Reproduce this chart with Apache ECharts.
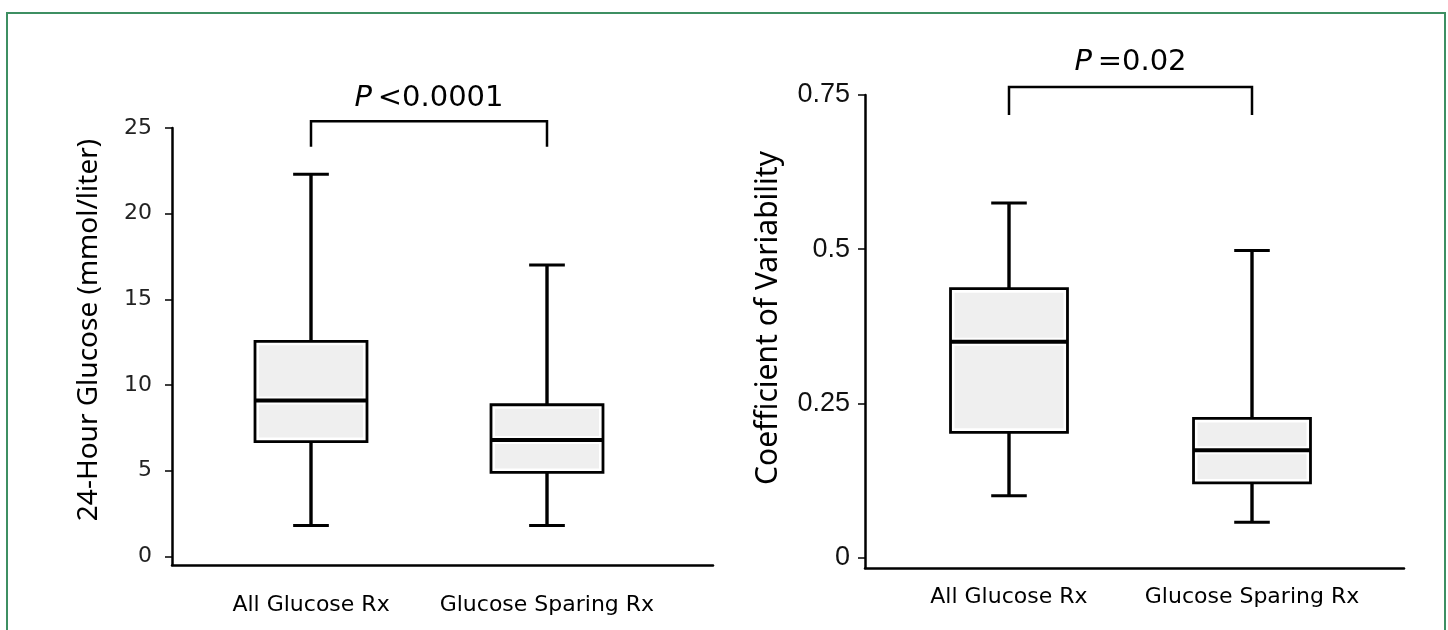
<!DOCTYPE html>
<html>
<head>
<meta charset="utf-8">
<script src="https://cdn.jsdelivr.net/npm/echarts@6/dist/echarts.min.js"></script>
<style>
  html, body { margin: 0; padding: 0; background: #fff; }
  #chart { width: 1448px; height: 630px; }
</style>
</head>
<body>
<div id="chart"></div>
<script>
// ---------- data ----------
const categories = ['All Glucose Rx', 'Glucose Sparing Rx'];

// 24-hour glucose (mmol/liter)
const glucoseMin    = [1.8, 1.8];
const glucoseQ1     = [6.7, 4.9];
const glucoseMedian = [9.1, 6.8];
const glucoseQ3     = [12.55, 8.85];
const glucoseMax    = [22.3, 17.0];
const glucoseTicks  = [0, 5, 10, 15, 20, 25];
const glucoseP      = 'P<0.0001';

// Coefficient of variability
const cvMin    = [0.100, 0.057];
const cvQ1     = [0.203, 0.121];
const cvMedian = [0.350, 0.174];
const cvQ3     = [0.436, 0.2255];
const cvMax    = [0.575, 0.498];
const cvTicks  = [0, 0.25, 0.5, 0.75];
const cvP      = 'P=0.02';

// ---------- layout (positions on a 0..10 horizontal scale) ----------
const glucoseXPos = [2.57, 6.93];
const cvXPos      = [2.67, 7.18];
const glucoseBoxW = 2.07, cvBoxW = 2.17, capW = 0.66;
const glucoseBracket = [25.4, 23.9, 26.75];   // top, arm end, text centre (y units)
const cvBracket      = [0.763, 0.7175, 0.803];

function boxRows(xs, mn, q1, md, q3, mx) {
  return xs.map((x, i) => [x, mn[i], q1[i], md[i], q3[i], mx[i]]);
}

function makeBoxRenderer(boxW) {
  return function (params, api) {
    const x = api.value(0);
    const pMin = api.coord([x, api.value(1)]);
    const pQ1  = api.coord([x, api.value(2)]);
    const pMed = api.coord([x, api.value(3)]);
    const pQ3  = api.coord([x, api.value(4)]);
    const pMax = api.coord([x, api.value(5)]);
    const halfW = api.size([boxW, 0])[0] / 2;
    const capH = api.size([capW, 0])[0] / 2;
    const cx = Math.round(pMin[0]);
    const vert = { stroke: '#000', lineWidth: 3.4 };
    const cap = { stroke: '#000', lineWidth: 3 };
    const ins = 4;
    return {
      type: 'group',
      children: [
        { type: 'line', shape: { x1: cx, y1: pMax[1], x2: cx, y2: pQ3[1] }, style: vert },
        { type: 'line', shape: { x1: cx, y1: pQ1[1], x2: cx, y2: pMin[1] }, style: vert },
        { type: 'line', shape: { x1: cx - capH, y1: pMax[1], x2: cx + capH, y2: pMax[1] }, style: cap },
        { type: 'line', shape: { x1: cx - capH, y1: pMin[1], x2: cx + capH, y2: pMin[1] }, style: cap },
        { type: 'rect', shape: { x: cx - halfW, y: pQ3[1], width: 2 * halfW, height: pQ1[1] - pQ3[1] },
          style: { fill: '#fff', stroke: '#000', lineWidth: 2.8 } },
        { type: 'rect', shape: { x: cx - halfW + ins, y: pQ3[1] + ins, width: 2 * halfW - 2 * ins, height: pMed[1] - pQ3[1] - 2 * ins },
          style: { fill: '#efefef' } },
        { type: 'rect', shape: { x: cx - halfW + ins, y: pMed[1] + ins, width: 2 * halfW - 2 * ins, height: pQ1[1] - pMed[1] - 2 * ins },
          style: { fill: '#efefef' } },
        { type: 'line', shape: { x1: cx - halfW, y1: pMed[1], x2: cx + halfW, y2: pMed[1] }, style: { stroke: '#000', lineWidth: 4 } }
      ]
    };
  };
}

function makeBracketRenderer(xs, br, label) {
  return function (params, api) {
    const a1 = api.coord([xs[0], br[1]]);
    const t1 = api.coord([xs[0], br[0]]);
    const t2 = api.coord([xs[1], br[0]]);
    const a2 = api.coord([xs[1], br[1]]);
    const tc = api.coord([(xs[0] + xs[1]) / 2, br[2]]);
    const rest = label.slice(1);
    return {
      type: 'group',
      children: [
        { type: 'polyline', shape: { points: [[Math.round(a1[0]), a1[1]], [Math.round(t1[0]), t1[1]], [Math.round(t2[0]), t2[1]], [Math.round(a2[0]), a2[1]]] },
          style: { stroke: '#000', lineWidth: 2.5, fill: null } },
        { type: 'text', x: tc[0], y: tc[1],
          style: {
            text: '{i|P}{n|\u2009' + rest + '}',
            align: 'center', verticalAlign: 'middle',
            rich: {
              i: { fontStyle: 'italic', fontSize: 29, fontFamily: 'DejaVu Sans', fill: '#000' },
              n: { fontSize: 29, fontFamily: 'DejaVu Sans', fill: '#000' }
            }
          } }
      ]
    };
  };
}

function nearestLabel(xs) {
  return function (v) {
    let best = 0;
    xs.forEach((x, i) => { if (Math.abs(x - v) < Math.abs(xs[best] - v)) best = i; });
    return categories[best];
  };
}

const axisLineStyle = { color: '#000', width: 2.5 };

const option = {
  animation: false,
  backgroundColor: '#fff',
  grid: [
    { left: 172, top: 128, width: 541, height: 437 },
    { left: 865, top: 95, width: 539, height: 473 }
  ],
  xAxis: [
    { gridIndex: 0, type: 'value', min: 0, max: 10,
      axisLine: { show: true, onZero: false, lineStyle: axisLineStyle },
      axisTick: { show: false }, splitLine: { show: false },
      axisLabel: { customValues: glucoseXPos, formatter: nearestLabel(glucoseXPos), margin: 29,
        fontSize: 22, fontFamily: 'DejaVu Sans', color: '#000' } },
    { gridIndex: 1, type: 'value', min: 0, max: 10,
      axisLine: { show: true, onZero: false, lineStyle: axisLineStyle },
      axisTick: { show: false }, splitLine: { show: false },
      axisLabel: { customValues: cvXPos, formatter: nearestLabel(cvXPos), margin: 18,
        fontSize: 22, fontFamily: 'DejaVu Sans', color: '#000' } }
  ],
  yAxis: [
    { gridIndex: 0, type: 'value', min: -0.5, max: 25,
      axisLine: { show: true, onZero: false, lineStyle: axisLineStyle },
      axisTick: { show: true, customValues: glucoseTicks, length: 7, lineStyle: { color: '#000', width: 1.5 } },
      axisLabel: { customValues: glucoseTicks, margin: 20, fontSize: 22, fontFamily: 'DejaVu Sans', color: '#222' },
      splitLine: { show: false },
      name: '24-Hour Glucose (mmol/liter)', nameLocation: 'middle', nameRotate: 90, nameGap: 69,
      nameTextStyle: { fontSize: 28, fontFamily: 'Noto Sans', color: '#000', padding: [0, 0, 0, 33] } },
    { gridIndex: 1, type: 'value', min: -0.017, max: 0.75,
      axisLine: { show: true, onZero: false, lineStyle: axisLineStyle },
      axisTick: { show: true, customValues: cvTicks, length: 7, lineStyle: { color: '#000', width: 1.5 } },
      axisLabel: { customValues: cvTicks, margin: 15, fontSize: 27, fontFamily: 'Liberation Sans', color: '#111' },
      splitLine: { show: false },
      name: 'Coefficient of Variability', nameLocation: 'middle', nameRotate: 90, nameGap: 82,
      nameTextStyle: { fontSize: 30, fontFamily: 'Noto Sans', color: '#000', padding: [0, 0, 0, 27] } }
  ],
  graphic: [
    { type: 'rect', shape: { x: 7, y: 13, width: 1438, height: 700 },
      style: { fill: null, stroke: '#3d8f62', lineWidth: 2 }, silent: true }
  ],
  series: [
    { type: 'custom', name: 'glucose', xAxisIndex: 0, yAxisIndex: 0,
      renderItem: makeBoxRenderer(glucoseBoxW),
      data: boxRows(glucoseXPos, glucoseMin, glucoseQ1, glucoseMedian, glucoseQ3, glucoseMax),
      encode: { x: 0, y: [1, 2, 3, 4, 5] }, clip: false },
    { type: 'custom', name: 'cv', xAxisIndex: 1, yAxisIndex: 1,
      renderItem: makeBoxRenderer(cvBoxW),
      data: boxRows(cvXPos, cvMin, cvQ1, cvMedian, cvQ3, cvMax),
      encode: { x: 0, y: [1, 2, 3, 4, 5] }, clip: false },
    { type: 'custom', name: 'glucoseP', xAxisIndex: 0, yAxisIndex: 0,
      renderItem: makeBracketRenderer(glucoseXPos, glucoseBracket, glucoseP),
      data: [[glucoseXPos[0], glucoseBracket[0]]], clip: false, silent: true },
    { type: 'custom', name: 'cvP', xAxisIndex: 1, yAxisIndex: 1,
      renderItem: makeBracketRenderer(cvXPos, cvBracket, cvP),
      data: [[cvXPos[0], cvBracket[0]]], clip: false, silent: true }
  ]
};

const chart = echarts.init(document.getElementById('chart'), null, { renderer: 'canvas' });
chart.setOption(option);
</script>
</body>
</html>
